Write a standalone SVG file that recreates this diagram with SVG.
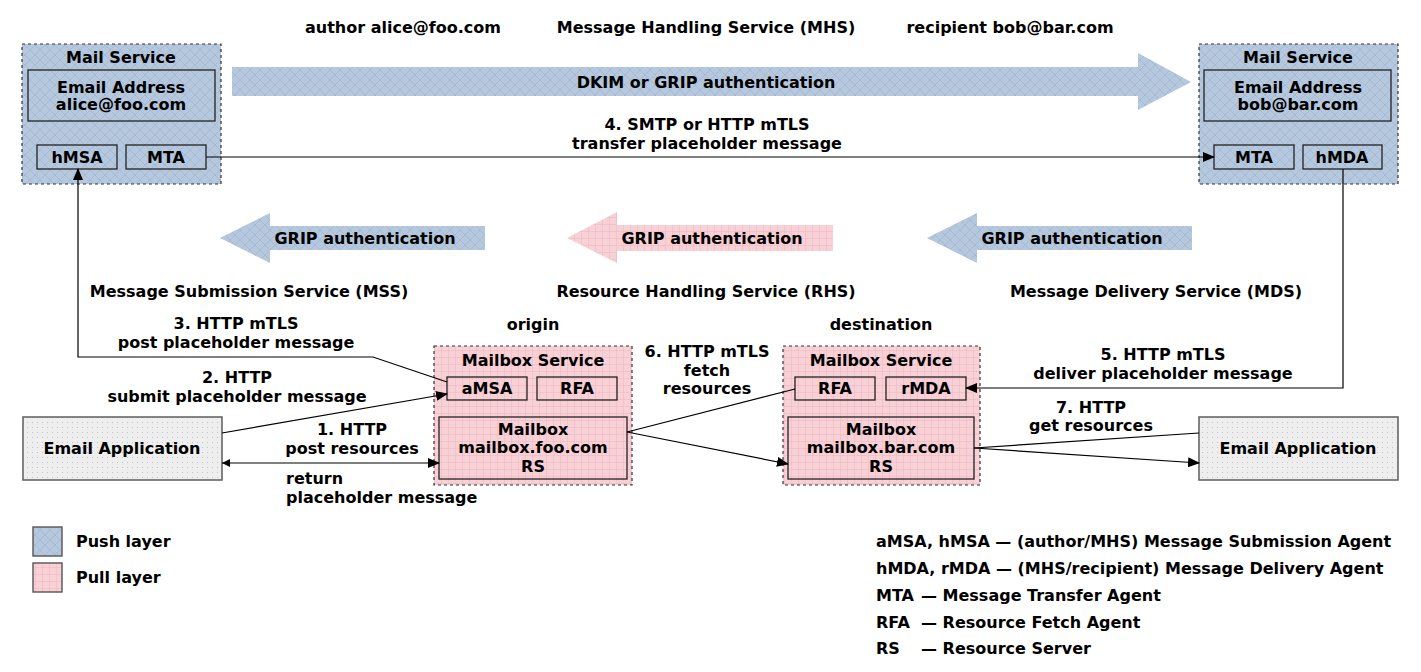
<svg xmlns="http://www.w3.org/2000/svg" width="1421" height="672" viewBox="0 0 1421 672">
<defs>
  <pattern id="push" width="10" height="10" patternUnits="userSpaceOnUse">
    <rect width="10" height="10" fill="#b6c8de"/>
    <path d="M0,0 L10,10 M10,0 L0,10" stroke="#a2b7d1" stroke-width="0.8"/>
  </pattern>
  <pattern id="pull" width="7" height="7" patternUnits="userSpaceOnUse">
    <rect width="7" height="7" fill="#f8d1d7"/>
    <path d="M0,0 L7,0 M0,0 L0,7" stroke="#eeb6c0" stroke-width="1"/>
  </pattern>
  <pattern id="dots" width="5" height="5" patternUnits="userSpaceOnUse">
    <rect width="5" height="5" fill="#eeeeee"/>
    <circle cx="2.5" cy="2.5" r="0.5" fill="#b8b8b8"/>
  </pattern>
  <marker id="arr" markerWidth="12" markerHeight="10" refX="11" refY="5" orient="auto" markerUnits="userSpaceOnUse">
    <path d="M0,0 L12,5 L0,10 Z" fill="#000"/>
  </marker>
  <marker id="arrS" markerWidth="8" markerHeight="8" refX="0" refY="4" orient="auto" markerUnits="userSpaceOnUse">
    <path d="M8,0 L0,4 L8,8 Z" fill="#000"/>
  </marker>
</defs>
<style>
  text { font-family: "DejaVu Sans", "Liberation Sans", sans-serif; font-weight: bold; font-size: 16px; fill: #000; }
  .c { text-anchor: middle; }
  .svc { stroke: #333; stroke-width: 1.2; stroke-dasharray: 3 3; }
  .box { stroke: #222; stroke-width: 1.3; fill: none; }
  .app { fill: url(#dots); stroke: #666; stroke-width: 1.6; }
  .ln { fill: none; stroke: #000; stroke-width: 1.2; }
  .lg { stroke: #555; stroke-width: 1.4; }
</style>
<rect width="1421" height="672" fill="#fff"/>

<g id="titles">
  <text x="403" y="33" class="c">author alice@foo.com</text>
  <text x="706" y="33" class="c">Message Handling Service (MHS)</text>
  <text x="1010" y="33" class="c">recipient bob@bar.com</text>
  <text x="249" y="297" class="c">Message Submission Service (MSS)</text>
  <text x="706" y="297" class="c">Resource Handling Service (RHS)</text>
  <text x="1156" y="297" class="c">Message Delivery Service (MDS)</text>
  <text x="533" y="330" class="c">origin</text>
  <text x="881" y="330" class="c">destination</text>
</g>

<g id="auth-arrows">
  <path d="M232,67 L1138,67 L1138,53 L1191,82 L1138,110 L1138,96 L232,96 Z" fill="url(#push)"/>
  <text x="706" y="88" class="c">DKIM or GRIP authentication</text>
  <path d="M485,226 L270,226 L270,213 L220,238 L270,263 L270,250 L485,250 Z" fill="url(#push)"/>
  <text x="365" y="244" class="c">GRIP authentication</text>
  <path d="M833,225 L617,225 L617,212 L567,238 L617,263 L617,251 L833,251 Z" fill="url(#pull)"/>
  <text x="712" y="244" class="c">GRIP authentication</text>
  <path d="M1192,226 L977,226 L977,213 L927,238 L977,263 L977,250 L1192,250 Z" fill="url(#push)"/>
  <text x="1072" y="244" class="c">GRIP authentication</text>
</g>

<g id="mail-service-alice">
  <rect x="22" y="44" width="199" height="140" fill="url(#push)" class="svc"/>
  <text x="121" y="63" class="c">Mail Service</text>
  <rect x="28" y="70" width="187" height="51" class="box"/>
  <text x="121" y="93" class="c">Email Address</text>
  <text x="121" y="110" class="c">alice@foo.com</text>
  <rect x="37" y="145" width="80" height="24" class="box"/>
  <text x="77" y="163" class="c">hMSA</text>
  <rect x="126" y="145" width="80" height="24" class="box"/>
  <text x="166" y="163" class="c">MTA</text>
</g>

<g id="mail-service-bob">
  <rect x="1199" y="44" width="199" height="140" fill="url(#push)" class="svc"/>
  <text x="1298" y="63" class="c">Mail Service</text>
  <rect x="1204" y="70" width="187" height="51" class="box"/>
  <text x="1298" y="93" class="c">Email Address</text>
  <text x="1298" y="110" class="c">bob@bar.com</text>
  <rect x="1214" y="145" width="80" height="24" class="box"/>
  <text x="1254" y="163" class="c">MTA</text>
  <rect x="1303" y="145" width="79" height="24" class="box"/>
  <text x="1342" y="163" class="c">hMDA</text>
</g>

<g id="mailbox-origin">
  <rect x="434" y="346" width="198" height="139" fill="url(#pull)" class="svc"/>
  <text x="533" y="366" class="c">Mailbox Service</text>
  <rect x="447" y="377" width="80" height="23" class="box"/>
  <text x="487" y="394" class="c">aMSA</text>
  <rect x="537" y="377" width="80" height="23" class="box"/>
  <text x="577" y="394" class="c">RFA</text>
  <rect x="439" y="417" width="188" height="62" class="box"/>
  <text x="533" y="435" class="c">Mailbox</text>
  <text x="533" y="453" class="c">mailbox.foo.com</text>
  <text x="533" y="472" class="c">RS</text>
</g>

<g id="mailbox-destination">
  <rect x="783" y="346" width="197" height="139" fill="url(#pull)" class="svc"/>
  <text x="881" y="366" class="c">Mailbox Service</text>
  <rect x="795" y="377" width="80" height="23" class="box"/>
  <text x="835" y="394" class="c">RFA</text>
  <rect x="886" y="377" width="80" height="23" class="box"/>
  <text x="926" y="394" class="c">rMDA</text>
  <rect x="788" y="417" width="186" height="62" class="box"/>
  <text x="881" y="435" class="c">Mailbox</text>
  <text x="881" y="453" class="c">mailbox.bar.com</text>
  <text x="881" y="472" class="c">RS</text>
</g>

<g id="email-app-author">
  <rect x="23" y="417" width="199" height="63" class="app"/>
  <text x="122" y="454" class="c">Email Application</text>
</g>

<g id="email-app-recipient">
  <rect x="1199" y="417" width="199" height="63" class="app"/>
  <text x="1298" y="454" class="c">Email Application</text>
</g>

<g id="connectors">
  <path d="M206,157 L1214,157" class="ln" marker-end="url(#arr)"/>
  <path d="M447,382 L373,357 L78,357 L78,169" class="ln" marker-end="url(#arr)"/>
  <path d="M222,433 L447,394" class="ln" marker-end="url(#arr)"/>
  <path d="M222,463 L439,463" class="ln" marker-start="url(#arrS)" marker-end="url(#arr)"/>
  <path d="M627,432 L795,389" class="ln"/>
  <path d="M627,432 L788,464" class="ln" marker-end="url(#arr)"/>
  <path d="M1343,169 L1343,388 L966,388" class="ln" marker-end="url(#arr)"/>
  <path d="M974,448 L1199,433" class="ln"/>
  <path d="M974,448 L1199,463" class="ln" marker-end="url(#arr)"/>
</g>

<g id="connector-labels">
  <text x="707" y="130" class="c">4. SMTP or HTTP mTLS</text>
  <text x="707" y="149" class="c">transfer placeholder message</text>
  <text x="236" y="329" class="c">3. HTTP mTLS</text>
  <text x="236" y="348" class="c">post placeholder message</text>
  <text x="237" y="383" class="c">2. HTTP</text>
  <text x="237" y="402" class="c">submit placeholder message</text>
  <text x="352" y="435" class="c">1. HTTP</text>
  <text x="352" y="454" class="c">post resources</text>
  <text x="286" y="484">return</text>
  <text x="286" y="503">placeholder message</text>
  <text x="707" y="357" class="c">6. HTTP mTLS</text>
  <text x="707" y="376" class="c">fetch</text>
  <text x="707" y="394" class="c">resources</text>
  <text x="1163" y="360" class="c">5. HTTP mTLS</text>
  <text x="1163" y="379" class="c">deliver placeholder message</text>
  <text x="1091" y="413" class="c">7. HTTP</text>
  <text x="1091" y="431" class="c">get resources</text>
</g>

<g id="legend-layers">
  <rect x="33" y="527" width="29" height="29" fill="url(#push)" class="lg"/>
  <text x="76" y="547">Push layer</text>
  <rect x="33" y="563" width="29" height="29" fill="url(#pull)" class="lg"/>
  <text x="76" y="583">Pull layer</text>
</g>

<g id="legend-abbr">
  <text x="876" y="547">aMSA, hMSA — (author/MHS) Message Submission Agent</text>
  <text x="876" y="574">hMDA, rMDA — (MHS/recipient) Message Delivery Agent</text>
  <text x="876" y="601">MTA</text>
  <text x="921" y="601">— Message Transfer Agent</text>
  <text x="876" y="628">RFA</text>
  <text x="921" y="628">— Resource Fetch Agent</text>
  <text x="876" y="654">RS</text>
  <text x="921" y="654">— Resource Server</text>
</g>
</svg>
